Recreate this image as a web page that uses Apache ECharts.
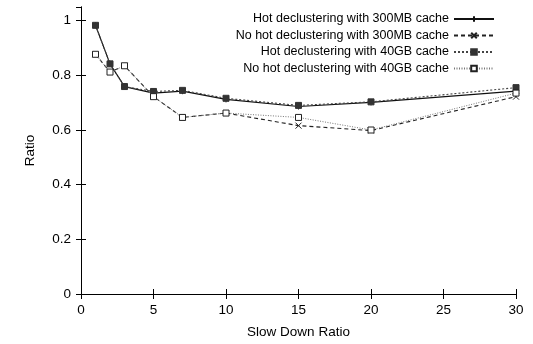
<!DOCTYPE html>
<html><head><meta charset="utf-8">
<script src="https://cdn.jsdelivr.net/npm/echarts@6/dist/echarts.min.js"></script>
<style>html,body{margin:0;padding:0;background:#fff}#c{width:533px;height:344px}</style>
</head><body><div id="c"></div>
<script>
const xValues = [1, 2, 3, 5, 7, 10, 15, 20, 30];
const hot300 = [0.983, 0.842, 0.759, 0.735, 0.742, 0.712, 0.686, 0.701, 0.742];
const noHot300 = [0.877, 0.812, 0.835, 0.722, 0.646, 0.662, 0.616, 0.598, 0.722];
const hot40 = [0.983, 0.842, 0.759, 0.741, 0.745, 0.716, 0.690, 0.703, 0.755];
const noHot40 = [0.877, 0.812, 0.835, 0.722, 0.646, 0.662, 0.646, 0.600, 0.735];
const seriesNames = [
  'Hot declustering with 300MB cache',
  'No hot declustering with 300MB cache',
  'Hot declustering with 40GB cache',
  'No hot declustering with 40GB cache'
];
const xTicks = [0, 5, 10, 15, 20, 25, 30];
const yTicks = [0, 0.2, 0.4, 0.6, 0.8, 1];

const FONT = '"Liberation Sans Narrow", "Liberation Sans", Arial, sans-serif';
const pairs = arr => xValues.map((x, i) => [x, arr[i]]);

const styles = [
  {line: {color: '#111', width: 1.2, type: 'solid'}, symbol: 'path://M0,5L10,5M5,0L5,10', size: 6, item: {color: '#111', borderColor: '#111', borderWidth: 1}},
  {line: {color: '#222', width: 1.1, type: [4, 3]}, symbol: 'path://M0,0L10,10M10,0L0,10', size: 6, item: {color: '#222', borderColor: '#222', borderWidth: 1}},
  {line: {color: '#444', width: 1.1, type: [2, 2]}, symbol: 'rect', size: 6, item: {color: '#333', borderColor: '#333', borderWidth: 1}},
  {line: {color: '#777', width: 1, type: [1, 1.5]}, symbol: 'rect', size: 6, item: {color: '#fff', borderColor: '#222', borderWidth: 1}}
];
const datas = [hot300, noHot300, hot40, noHot40];

const axisCommon = {
  axisLine: {show: true, lineStyle: {color: '#000', width: 1}},
  axisTick: {show: true, inside: true, length: 5, lineStyle: {color: '#000'}},
  splitLine: {show: false}
};

const chart = echarts.init(document.getElementById('c'), null, {renderer: 'canvas'});
chart.setOption({
  backgroundColor: '#fff',
  animation: false,
  grid: {left: 81, right: 17, top: 7, bottom: 45, containLabel: false},
  legend: {
    orient: 'vertical', right: 33, top: 7, align: 'right',
    itemWidth: 40, itemHeight: 7, itemGap: 2.5,
    textStyle: {fontFamily: FONT, fontSize: 12.5, color: '#000', lineHeight: 14},
    data: seriesNames
  },
  xAxis: [
    Object.assign({type: 'value', min: xTicks[0], max: xTicks[xTicks.length - 1], interval: 5, position: 'bottom',
      name: 'Slow Down Ratio', nameLocation: 'middle', nameGap: 31,
      nameTextStyle: {fontFamily: FONT, fontSize: 13.5, color: '#000'},
      axisLabel: {fontFamily: FONT, fontSize: 13.5, color: '#000', margin: 9}}, axisCommon),
    Object.assign({type: 'value', min: xTicks[0], max: xTicks[xTicks.length - 1], interval: 5, position: 'top',
      axisLabel: {show: false}}, axisCommon)
  ],
  yAxis: [
    Object.assign({type: 'value', min: 0, max: 1.05, interval: 0.2, position: 'left',
      name: 'Ratio', nameLocation: 'middle', nameGap: 44,
      nameTextStyle: {fontFamily: FONT, fontSize: 13.5, color: '#000'},
      axisLabel: {fontFamily: FONT, fontSize: 13.5, color: '#000', margin: 10, showMaxLabel: false,
        formatter: v => yTicks.some(t => Math.abs(t - v) < 1e-9) ? String(+v.toFixed(1)) : ''}}, axisCommon),
    Object.assign({type: 'value', min: 0, max: 1.05, interval: 0.2, position: 'right',
      axisLabel: {show: false}}, axisCommon)
  ],
  series: datas.map((d, i) => ({
    name: seriesNames[i], type: 'line', xAxisIndex: 0, yAxisIndex: 0,
    data: pairs(d), symbol: styles[i].symbol, symbolSize: styles[i].size,
    showAllSymbol: true, lineStyle: styles[i].line, itemStyle: styles[i].item,
    emphasis: {disabled: true}
  }))
});
</script></body></html>
